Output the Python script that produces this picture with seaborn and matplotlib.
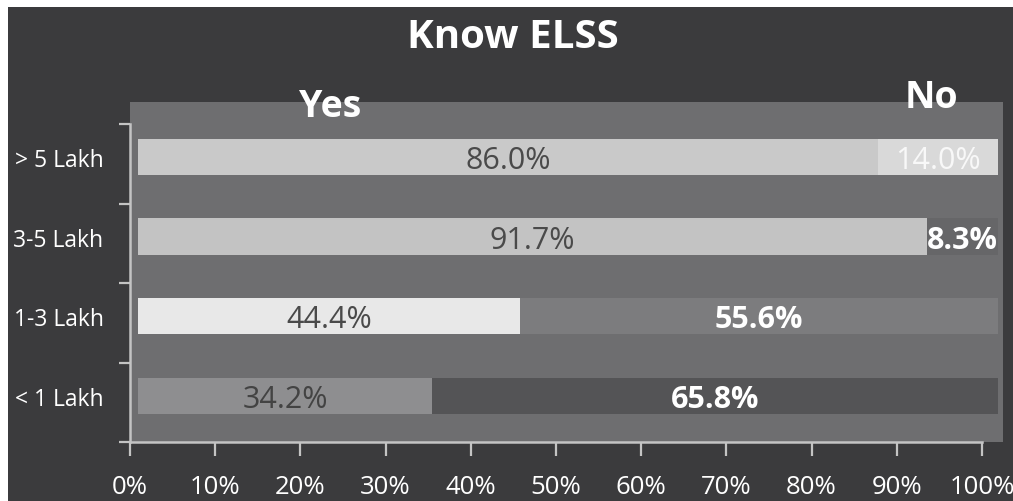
import matplotlib
matplotlib.use("Agg")
import matplotlib.pyplot as plt
from matplotlib.patches import Rectangle
import seaborn as sns
import pandas as pd

# ---- data ----
categories = ["> 5 Lakh", "3-5 Lakh", "1-3 Lakh", "< 1 Lakh"]
yes_pct = [86.0, 91.7, 44.4, 34.2]
no_pct = [14.0, 8.3, 55.6, 65.8]
x_tick_values = [0, 10, 20, 30, 40, 50, 60, 70, 80, 90, 100]
x_tick_labels = [f"{t}%" for t in x_tick_values]
title = "Know ELSS"
series_names = ["Yes", "No"]

# ---- styles ----
yes_colors = ["#c9c9c9", "#c3c3c3", "#e8e8e8", "#8e8e90"]
no_colors = ["#d9d9d9", "#666668", "#7c7c7e", "#545456"]
yes_label_colors = ["#4a4a4a", "#4a4a4a", "#4a4a4a", "#434343"]
no_label_colors = ["#f8f8f8", "#ffffff", "#ffffff", "#ffffff"]
no_label_weights = ["normal", "bold", "bold", "bold"]
BG = "#3b3b3d"
WALL = "#6e6e70"
AXIS = "#c4c4c4"

W, H = 1013, 502

sns.set_style("white")
plt.rcParams["font.family"] = ["Open Sans", "DejaVu Sans"]

fig = plt.figure(figsize=(W / 100, H / 100), dpi=100)
fig.patch.set_facecolor("white")
fig.add_artist(Rectangle((8 / W, 0), 1, 1 - 8 / H, transform=fig.transFigure,
                         facecolor=BG, edgecolor="none", zorder=-10))

ax = fig.add_axes([130 / W, 1 - 443 / H, 873 / W, 340 / H])
ax.set_facecolor(WALL)

df = pd.DataFrame({
    "category": categories,
    "yes": yes_pct,
    "total": [y + n for y, n in zip(yes_pct, no_pct)],
})

sns.barplot(data=df, y="category", x="total", hue="category", palette=no_colors,
            orient="h", width=0.455, legend=False, saturation=1, ax=ax,
            linewidth=0, edgecolor="none")
sns.barplot(data=df, y="category", x="yes", hue="category", palette=yes_colors,
            orient="h", width=0.455, legend=False, saturation=1, ax=ax,
            linewidth=0, edgecolor="none")

# perspective: bars start a little right of the axis line
px_per_unit = 8.6
bar_origin_px = 8.0
tick_px_per_unit = 8.52


def tick_to_data(t):
    return (tick_px_per_unit * t - bar_origin_px) / px_per_unit


ax.set_xlim(-bar_origin_px / px_per_unit, (873 - bar_origin_px) / px_per_unit)
ax.set_ylim(3.58, -0.69)

for i, (y, n) in enumerate(zip(yes_pct, no_pct)):
    ax.text(y / 2, i + 0.04, f"{y:.1f}%", ha="center", va="center",
            color=yes_label_colors[i], fontsize=22)
    ax.text(y + n / 2, i + 0.04, f"{n:.1f}%", ha="center", va="center",
            color=no_label_colors[i], fontsize=22, fontweight=no_label_weights[i])

ax.set_xlabel("")
ax.set_ylabel("")
for s in ["top", "right"]:
    ax.spines[s].set_visible(False)
for s in ["left", "bottom"]:
    ax.spines[s].set_visible(True)
    ax.spines[s].set_color(AXIS)
    ax.spines[s].set_linewidth(1.8)
ax.spines["bottom"].set_bounds(tick_to_data(0), tick_to_data(100))
ax.spines["left"].set_bounds(-0.415, 3.58)

ax.set_xticks([tick_to_data(t) for t in x_tick_values])
ax.set_xticklabels(x_tick_labels)
ax.tick_params(axis="x", bottom=True, length=10, width=1.6, color=AXIS,
               labelcolor="white", labelsize=18.5, pad=13)

ax.set_yticks(range(len(categories)))
ax.set_yticklabels(categories)
ax.set_yticks([-0.415, 0.585, 1.585, 2.585, 3.58], minor=True)
ax.tick_params(axis="y", which="major", left=True, length=0, labelcolor="white",
               labelsize=16.5, pad=19)
ax.tick_params(axis="y", which="minor", left=True, length=8, width=1.6, color=AXIS)

fig.text(513 / W, 1 - 48 / H, title, ha="center", va="baseline", color="white",
         fontsize=29, fontweight="bold")
fig.text(330 / W, 1 - 117 / H, series_names[0], ha="center", va="baseline",
         color="white", fontsize=27, fontweight="bold")
fig.text(931 / W, 1 - 108 / H, series_names[1], ha="center", va="baseline",
         color="white", fontsize=27, fontweight="bold")

fig.savefig("out.png", dpi=100, facecolor=fig.get_facecolor())
